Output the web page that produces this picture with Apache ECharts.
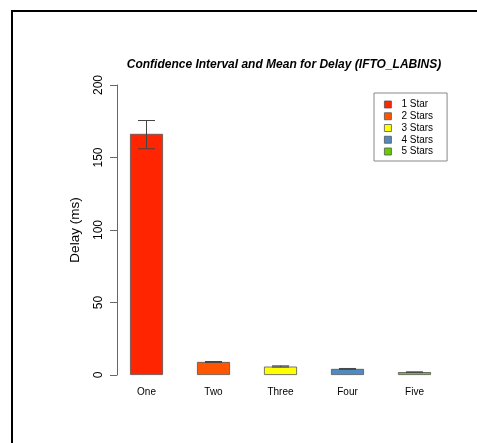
<!DOCTYPE html>
<html>
<head>
<meta charset="utf-8">
<script src="https://cdn.jsdelivr.net/npm/echarts@6/dist/echarts.min.js"></script>
<style>html,body{margin:0;padding:0;background:#fff;}#c{width:477px;height:443px;}</style>
</head>
<body>
<div id="c"></div>
<script>
var categories = ['One', 'Two', 'Three', 'Four', 'Five'];
var seriesNames = ['1 Star', '2 Stars', '3 Stars', '4 Stars', '5 Stars'];
var meanValues = [166.3, 9.0, 5.8, 4.2, 2.0];
var ciLow = [156.0, 8.7, 5.5, 3.9, 1.9];
var ciHigh = [175.5, 9.3, 6.3, 4.5, 2.1];
var colors = ['#FF2500', '#FF5500', '#FFFF00', '#4F8BC0', '#66CC00'];
var yTicks = [0, 50, 100, 150, 200];

var chart = echarts.init(document.getElementById('c'), null, {renderer: 'canvas'});
var FONT = 'Liberation Sans';

var barSeries = seriesNames.map(function (name, i) {
  return {
    name: name,
    type: 'bar',
    stack: 'all',
    barWidth: 33,
    data: categories.map(function (c, j) { return j === i ? meanValues[j] : '-'; }),
    itemStyle: {color: colors[i], borderColor: '#555', borderWidth: 0.8},
    emphasis: {disabled: true},
    silent: true
  };
});

var errorSeries = {
  type: 'custom',
  name: 'ci',
  silent: true,
  z: 5,
  data: categories.map(function (c, j) { return [j, ciLow[j], ciHigh[j]]; }),
  renderItem: function (params, api) {
    var idx = api.value(0);
    var lo = api.coord([idx, api.value(1)]);
    var hi = api.coord([idx, api.value(2)]);
    var hw = 8.5;
    var style = {stroke: '#444', lineWidth: 1};
    return {
      type: 'group',
      children: [
        {type: 'line', shape: {x1: lo[0], y1: lo[1], x2: hi[0], y2: hi[1]}, style: style},
        {type: 'line', shape: {x1: lo[0] - hw, y1: lo[1], x2: lo[0] + hw, y2: lo[1]}, style: style},
        {type: 'line', shape: {x1: hi[0] - hw, y1: hi[1], x2: hi[0] + hw, y2: hi[1]}, style: style}
      ]
    };
  }
};

chart.setOption({
  animation: false,
  backgroundColor: '#fff',
  title: {
    text: 'Confidence Interval and Mean for Delay (IFTO_LABINS)',
    left: 279, top: 54, textAlign: 'center',
    textStyle: {fontFamily: FONT, fontSize: 12, fontWeight: 'bold', fontStyle: 'italic', color: '#000'}
  },
  legend: {
    data: seriesNames.map(function (n) { return {name: n, icon: 'rect'}; }),
    orient: 'vertical',
    left: 374, top: 93,
    padding: [6, 14, 4, 10],
    itemWidth: 7, itemHeight: 7,
    itemGap: 0.75,
    borderColor: '#888', borderWidth: 1,
    selectedMode: false,
    itemStyle: {borderColor: '#555', borderWidth: 0.8},
    textStyle: {fontFamily: FONT, fontSize: 10, color: '#000', lineHeight: 11, padding: [0, 0, 0, 5]}
  },
  grid: {left: 113, right: 29, top: 85, bottom: 68},
  xAxis: {
    type: 'category',
    data: categories,
    axisLine: {show: false},
    axisTick: {show: false},
    axisLabel: {fontFamily: FONT, fontSize: 10, color: '#000', margin: 12}
  },
  yAxis: {
    type: 'value',
    min: 0, max: 200, interval: 50,
    offset: -4,
    name: 'Delay (ms)',
    nameLocation: 'middle',
    nameGap: 35,
    nameTextStyle: {fontFamily: FONT, fontSize: 13.5, color: '#000'},
    axisLine: {show: true, lineStyle: {color: '#666', width: 1}},
    axisTick: {show: true, length: 7, lineStyle: {color: '#666'}},
    splitLine: {show: false},
    axisLabel: {
      rotate: 90, fontFamily: FONT, fontSize: 12, color: '#000', margin: 12,
      formatter: function (v) { return yTicks.indexOf(v) >= 0 ? String(v) : ''; }
    }
  },
  graphic: [{
    type: 'rect', silent: true,
    shape: {x: 12, y: 11, width: 600, height: 600},
    style: {fill: null, stroke: '#000', lineWidth: 2}
  }],
  series: barSeries.concat([errorSeries])
});
</script>
</body>
</html>
